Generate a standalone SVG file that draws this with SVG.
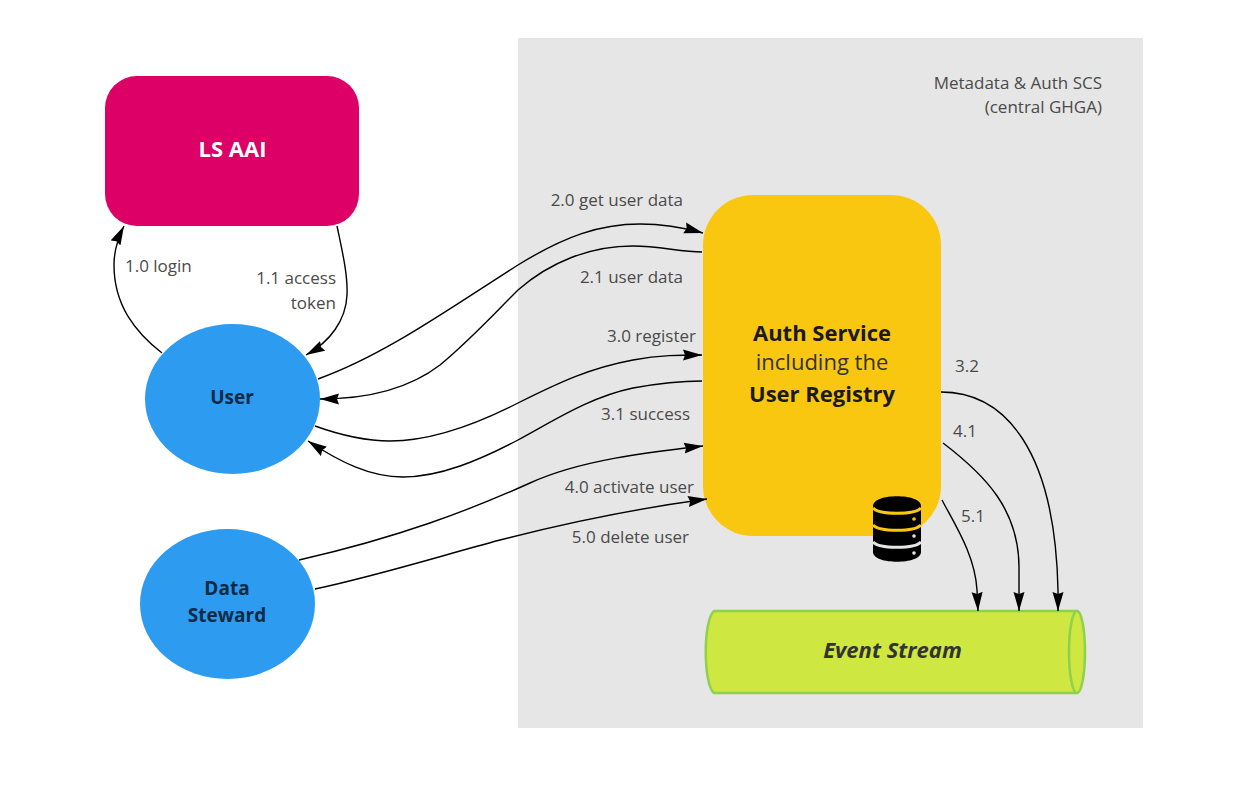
<svg xmlns="http://www.w3.org/2000/svg" width="1245" height="802" viewBox="0 0 1245 802">
<style>
text{font-family:"Open Sans","Noto Sans","Liberation Sans",sans-serif;}
.l{font-size:17px;fill:#4a4a4a;}
.e{text-anchor:end;}
.c{fill:none;stroke:#000;stroke-width:1.4;}
.b{font-weight:700;text-anchor:middle;}
</style>
<defs>
<marker id="a" markerUnits="userSpaceOnUse" markerWidth="21" markerHeight="12" refX="19" refY="6" orient="auto"><path d="M0 .5L19 6L0 11.500L2 6Z" fill="#000"/></marker>
</defs>
<rect id="scs" x="518" y="38" width="625" height="690" fill="#e6e6e6"/>
<g id="scs-label"><text class="l e" x="1102" y="89">Metadata &amp; Auth SCS</text><text class="l e" x="1102" y="113">(central GHGA)</text></g>
<g id="ls-aai"><rect x="105" y="76" width="254" height="150" rx="32" fill="#dc0067"/><text class="b" x="232.500" y="157" font-size="22" fill="#fff">LS AAI</text></g>
<g id="user"><ellipse cx="232.500" cy="399" rx="87.500" ry="75" fill="#2d9bf0"/><text class="b" x="232" y="404" font-size="19" fill="#0e2a44">User</text></g>
<g id="data-steward"><ellipse cx="227.500" cy="604" rx="87.500" ry="75" fill="#2d9bf0"/><text class="b" x="227" y="595" font-size="19" fill="#0e2a44">Data</text><text class="b" x="227" y="622" font-size="19" fill="#0e2a44">Steward</text></g>
<g id="auth-service"><rect x="703" y="195" width="238" height="341" rx="50" fill="#fac710"/>
<text class="b" x="822" y="341" font-size="22" fill="#1a1a1a">Auth Service</text>
<text x="822" y="370" font-size="22" text-anchor="middle" fill="#333">including the</text>
<text class="b" x="822" y="402" font-size="22" fill="#1a1a1a">User Registry</text></g>
<g id="database">
<path d="M873 506C873 493 921 493 921 506V534C921 544 873 544 873 534Z" fill="#000"/>
<path d="M873 552C873 565 921 565 921 552V526C921 536 873 536 873 526Z" fill="#000"/>
<path d="M873 508C879 515 915 515 921 508" fill="none" stroke="#fac710" stroke-width="3"/>
<path d="M873 525C879 532 915 532 921 525" fill="none" stroke="#fac710" stroke-width="3"/>
<path d="M873 542C879 549 915 549 921 542" fill="none" stroke="#e6e6e6" stroke-width="3"/>
<circle cx="914" cy="519" r="1.800" fill="#fac710"/><circle cx="914" cy="536" r="1.800" fill="#e6e6e6"/><circle cx="914" cy="553" r="1.800" fill="#e6e6e6"/>
</g>
<g id="event-stream"><path d="M1077 611H714C703 620 703 684 714 693H1077Z" fill="#cee741" stroke="#8fd14f" stroke-width="2.500"/>
<ellipse cx="1077" cy="652" rx="8" ry="41" fill="#cee741" stroke="#8fd14f" stroke-width="2.500"/>
<text x="892.500" y="658" font-size="22" font-weight="700" font-style="italic" text-anchor="middle" fill="#333">Event Stream</text></g>
<g id="connectors">
<path class="c" marker-end="url(#a)" d="M162 353C135 332 114 305 114 265C114 250 118 238 124 226"/>
<path class="c" marker-end="url(#a)" d="M337 226C342 250 348 275 347 295C346 320 330 342 306 355"/>
<path class="c" marker-end="url(#a)" d="M318 379C385 355 450 308 518 265C565 236 600 224 640 224C665 224 685 228 703 233"/>
<path class="c" marker-end="url(#a)" d="M702 252C680 252 660 246 633 246C590 246 550 262 518 290C490 318 470 340 440 365C410 388 370 399 320 399"/>
<path class="c" marker-end="url(#a)" d="M315 426C340 435 365 441 390 441C430 441 475 425 518 403C560 382 590 368 633 360C660 355 680 355 702 355"/>
<path class="c" marker-end="url(#a)" d="M702 381C675 381 655 384 633 388C590 397 555 420 518 440C480 460 440 477 403 477C370 477 340 462 308 441"/>
<path class="c" marker-end="url(#a)" d="M299 560C400 537 470 510 530 483C580 460 650 452 703 446"/>
<path class="c" marker-end="url(#a)" d="M315 589C380 575 440 556 500 540C570 522 640 508 707 499"/>
<path class="c" marker-end="url(#a)" d="M941 392C1005 392 1055 450 1058 590V611"/>
<path class="c" marker-end="url(#a)" d="M943 443C985 475 1020 510 1019 570V611"/>
<path class="c" marker-end="url(#a)" d="M942 500C955 525 975 555 977 590L978 611"/>
</g>
<g id="labels">
<text class="l" x="125" y="272">1.0 login</text>
<text class="l e" x="336" y="284">1.1 access</text><text class="l e" x="336" y="309">token</text>
<text class="l e" x="683" y="206">2.0 get user data</text>
<text class="l e" x="683" y="283">2.1 user data</text>
<text class="l e" x="696" y="342">3.0 register</text>
<text class="l e" x="690" y="420">3.1 success</text>
<text class="l e" x="694" y="493">4.0 activate user</text>
<text class="l e" x="689" y="543">5.0 delete user</text>
<text class="l" x="955" y="372">3.2</text>
<text class="l" x="953" y="437">4.1</text>
<text class="l" x="961" y="522">5.1</text>
</g>
</svg>
